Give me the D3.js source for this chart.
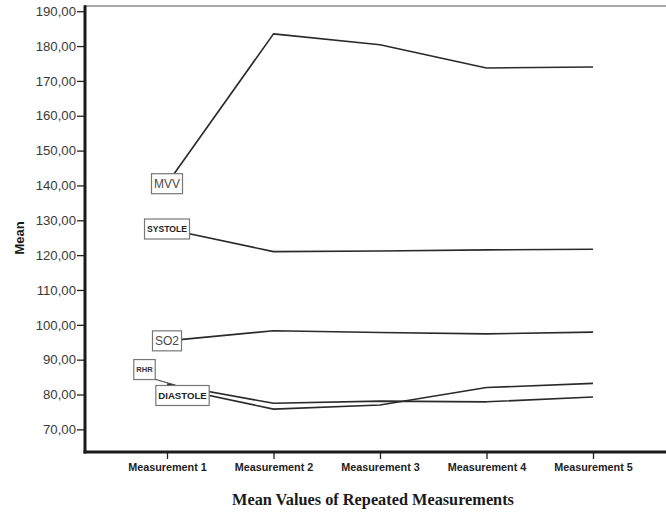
<!DOCTYPE html>
<html>
<head>
<meta charset="utf-8">
<script src="https://cdn.jsdelivr.net/npm/d3@7"></script>
<style>
  html, body { margin: 0; padding: 0; background: #fff; }
  svg { display: block; }
</style>
</head>
<body>
<svg id="chart" width="666" height="514"></svg>
<script>
// Mean values of repeated measurements
const categories = ["Measurement 1", "Measurement 2", "Measurement 3", "Measurement 4", "Measurement 5"];
const mvv      = [140.5, 183.5, 180.4, 173.7, 174.0];
const systole  = [127.5, 121.0, 121.2, 121.5, 121.7];
const so2      = [95.4, 98.3, 97.8, 97.4, 97.9];
const rhr      = [83.0, 77.5, 78.1, 77.9, 79.3];
const diastole = [82.3, 75.8, 77.0, 82.0, 83.2];
const yTicks   = [70, 80, 90, 100, 110, 120, 130, 140, 150, 160, 170, 180, 190];
const seriesNames = ["MVV", "SYSTOLE", "SO2", "RHR", "DIASTOLE"];

const series = [mvv, systole, so2, rhr, diastole].map((values, i) => ({ name: seriesNames[i], values }));

// label styling for each series tag (placed at the first point)
const labelStyle = {
  MVV:      { size: 12,  weight: "normal", fill: "#4a4a4a", dx: 0,   dy: 0 },
  SYSTOLE:  { size: 8.6, weight: "bold",   fill: "#222",    dx: 0,   dy: 0 },
  SO2:      { size: 12,  weight: "normal", fill: "#4a4a4a", dx: 0,   dy: 0 },
  RHR:      { size: 7.6, weight: "bold",   fill: "#333",    dx: -22.5, dy: -14.5, leader: true },
  DIASTOLE: { size: 9.6, weight: "bold",   fill: "#222",    dx: 15.5, dy: 9 }
};

const svg = d3.select("#chart");
const plot = { left: 85, top: 6, right: 675, bottom: 452 };

const x = d3.scalePoint().domain(categories).range([plot.left, plot.right]).padding(0.77);
const y = d3.scaleLinear().domain([63.5, 191.5]).range([plot.bottom, plot.top]);

const locale = d3.formatLocale({ decimal: ",", thousands: ".", grouping: [3], currency: ["", ""] });
const fmt = locale.format(".2f");

// top frame line
svg.append("line")
  .attr("x1", plot.left).attr("x2", 666)
  .attr("y1", plot.top).attr("y2", plot.top)
  .attr("stroke", "#8a8a8a").attr("stroke-width", 1.6);

// y axis
const yAxis = svg.append("g")
  .attr("transform", `translate(${plot.left},0)`)
  .call(d3.axisLeft(y).tickValues(yTicks).tickFormat(fmt).tickSize(8).tickPadding(1));
yAxis.select(".domain").remove();
yAxis.selectAll(".tick line").attr("stroke", "#222").attr("stroke-width", 1.3);
yAxis.selectAll(".tick text")
  .attr("font-family", "'Liberation Sans', Arial, sans-serif")
  .attr("font-size", 13.2).attr("fill", "#3a3a3a");

// x axis
const xAxis = svg.append("g")
  .attr("transform", `translate(0,${plot.bottom})`)
  .call(d3.axisBottom(x).tickSize(7).tickPadding(4));
xAxis.select(".domain").remove();
xAxis.selectAll(".tick line").attr("stroke", "#222").attr("stroke-width", 1.3);
xAxis.selectAll(".tick text")
  .attr("font-family", "'Liberation Sans', Arial, sans-serif")
  .attr("font-weight", "bold")
  .attr("font-size", 10.8).attr("fill", "#222");

// heavy axis lines
svg.append("line")
  .attr("x1", plot.left).attr("x2", plot.left)
  .attr("y1", plot.top - 0.8).attr("y2", plot.bottom + 1.5)
  .attr("stroke", "#1a1a1a").attr("stroke-width", 3);
svg.append("line")
  .attr("x1", plot.left - 1.5).attr("x2", 666)
  .attr("y1", plot.bottom).attr("y2", plot.bottom)
  .attr("stroke", "#1a1a1a").attr("stroke-width", 3);

// axis titles
svg.append("text")
  .attr("x", 373).attr("y", 505)
  .attr("text-anchor", "middle")
  .attr("font-family", "'Liberation Serif', 'Times New Roman', serif")
  .attr("font-weight", "bold").attr("font-size", 16.3)
  .attr("fill", "#1a1a1a")
  .text("Mean Values of Repeated Measurements");

svg.append("text")
  .attr("transform", "translate(24,238) rotate(-90)")
  .attr("text-anchor", "middle")
  .attr("font-family", "'Liberation Sans', Arial, sans-serif")
  .attr("font-weight", "bold").attr("font-size", 13)
  .attr("fill", "#1a1a1a")
  .text("Mean");

// series lines
const line = d3.line()
  .x((d, i) => x(categories[i]))
  .y(d => y(d));

svg.append("g").selectAll("path")
  .data(series)
  .join("path")
  .attr("d", d => line(d.values))
  .attr("fill", "none")
  .attr("stroke", "#2a2a2a")
  .attr("stroke-width", 1.6)
  .attr("stroke-linejoin", "round");

// series tags at the first measurement
const tags = svg.append("g");
series.forEach(s => {
  const st = labelStyle[s.name];
  const px = x(categories[0]);
  const py = y(s.values[0]);
  const cx = px + st.dx;
  const cy = py + st.dy;
  const g = tags.append("g");
  const rect = g.append("rect");
  const t = g.append("text")
    .attr("x", cx).attr("y", cy)
    .attr("text-anchor", "middle")
    .attr("dominant-baseline", "central")
    .attr("font-family", "'Liberation Sans', Arial, sans-serif")
    .attr("font-weight", st.weight)
    .attr("font-size", st.size)
    .attr("fill", st.fill)
    .text(s.name);
  const w = t.node().getComputedTextLength() + 5;
  const h = 20;
  rect.attr("x", cx - w / 2).attr("y", cy - h / 2)
    .attr("width", w).attr("height", h)
    .attr("fill", "#fff").attr("stroke", "#777").attr("stroke-width", 1.2);
  if (st.leader) {
    g.insert("line", "rect")
      .attr("x1", cx + w / 2 - 1).attr("y1", cy + h / 2 - 0.5)
      .attr("x2", px + 8).attr("y2", py + 1)
      .attr("stroke", "#444").attr("stroke-width", 1.1);
  }
});
// keep DIASTOLE tag above the RHR leader
tags.selectAll("g").filter((d, i) => i === 4).raise();
</script>
</body>
</html>
